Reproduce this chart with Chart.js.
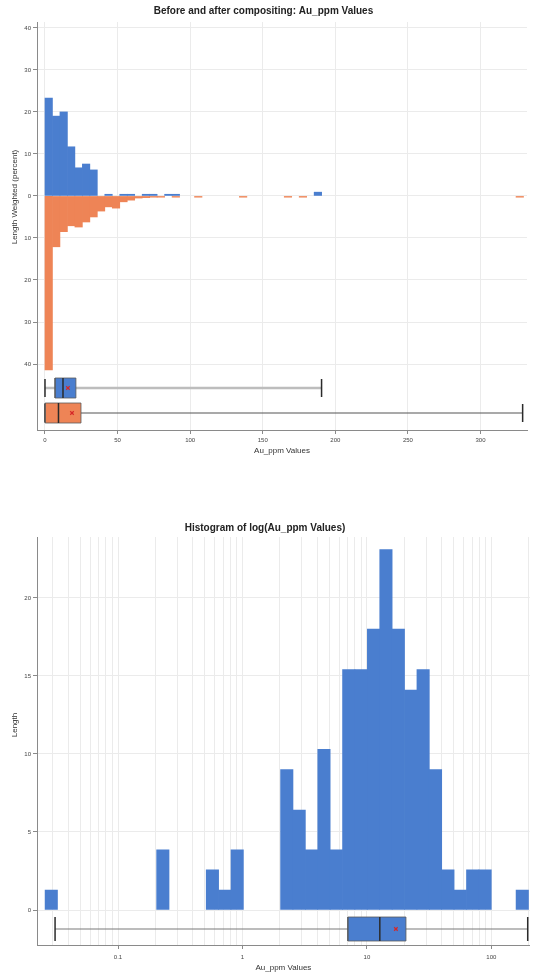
<!DOCTYPE html>
<html>
<head>
<meta charset="utf-8">
<title>Au_ppm compositing</title>
<script src="https://cdn.jsdelivr.net/npm/chart.js@4.4.0/dist/chart.umd.min.js"></script>
<style>
  html, body { margin: 0; padding: 0; background: #fff; }
  canvas { position: absolute; left: 0; }
  #compChart { top: 0; }
  #logChart { top: 470px; }
</style>
</head>
<body>
<canvas id="compChart" width="535" height="466"></canvas>
<canvas id="logChart" width="535" height="509"></canvas>
<script>
// Top panel: length weighted percent per bin, bins of 5.15 ppm starting at 0
const binWidth = 5.15
const compositePct = [23.3, 19.0, 20.0, 11.7, 6.7, 7.6, 6.2, 0, 0.4, 0,
  0.4, 0.4, 0, 0.4, 0.4, 0, 0.4, 0.4, 0, 0,
  0, 0, 0, 0, 0, 0, 0, 0, 0, 0,
  0, 0, 0, 0, 0, 0, 0.9]
const samplePct = [41.4, 12.1, 8.5, 7.1, 7.4, 6.2, 5.0, 3.6, 2.6, 2.9,
  1.4, 1.0, 0.5, 0.4, 0.3, 0.3, 0, 0.3, 0, 0,
  0.3, 0, 0, 0, 0, 0, 0.3, 0, 0, 0,
  0, 0, 0.3, 0, 0.3, 0, 0, 0, 0, 0,
  0, 0, 0, 0, 0, 0, 0, 0, 0, 0,
  0, 0, 0, 0, 0, 0, 0, 0, 0, 0,
  0, 0, 0, 0.3]
// box plots: min, q1, median, mean, q3, max (ppm)
const compositeBox = [0, 6.9, 12.4, 15.8, 21.3, 190.5]
const sampleBox = [0, 0.1, 9.3, 18.6, 24.8, 329]

// Bottom panel: histogram of log10(Au_ppm), composites
const logBinStart = -1.586
const logBinWidth = 0.0996
const logLength = [1.28, 0, 0, 0, 0, 0, 0, 0, 0, 3.85,
  0, 0, 0, 2.57, 1.28, 3.85, 0, 0, 0, 9.0,
  6.4, 3.85, 10.3, 3.85, 15.4, 15.4, 18.0, 23.1, 18.0, 14.1,
  15.4, 9.0, 2.57, 1.28, 2.57, 2.57, 0, 0, 1.28]
const logBox = [0.0312, 7.03, 12.7, 17.1, 20.6, 196]
const logTickLabels = ['0.1', '1', '10', '100']

;(() => {
  'use strict'

  Chart.defaults.font.family = "'Liberation Sans', Arial, sans-serif"
  Chart.defaults.color = '#444'

  const BLUE = '#4a7ecf'
  const ORANGE = '#ee8456'
  const AXIS = '#8a8a8a'
  const GRID = '#ebebeb'

  // empty bins are left out (null) so they draw nothing
  const barSet = (values, width, start, color, sign, xAxisID) => ({
    type: 'bar',
    xAxisID,
    yAxisID: 'y',
    data: values.map((v, i) => ({ x: start + (i + 0.5) * width, y: v ? sign * v : null })),
    backgroundColor: color,
    borderWidth: 0,
    grouped: false,
    barPercentage: 1,
    categoryPercentage: 1
  })

  // horizontal box plot built from line datasets on the box axis
  function boxplot (stats, row, half, capHalf, fillColor, whisker, whiskerWidth, tx) {
    const [lo, q1, med, mean, q3, hi] = tx ? stats.map(tx) : stats
    const seg = (pts, color, width) => ({
      type: 'line', yAxisID: 'yb', data: pts, borderColor: color,
      borderWidth: width, pointRadius: 0, fill: false
    })
    return [
      {
        type: 'line', yAxisID: 'yb', data: [{ x: mean, y: row }], showLine: false,
        pointStyle: 'crossRot', pointRadius: 2.5, pointBorderColor: '#d62728', pointBorderWidth: 1.2
      },
      seg([{ x: med, y: row - half }, { x: med, y: row + half }], '#2b2b2b', 1.5),
      {
        type: 'line', yAxisID: 'yb',
        data: [{ x: q1, y: row - half }, { x: q1, y: row + half }, { x: q3, y: row + half },
          { x: q3, y: row - half }, { x: q1, y: row - half }],
        borderColor: '#5a5a5a', borderWidth: 0.8, backgroundColor: fillColor,
        fill: 'shape', pointRadius: 0
      },
      seg([{ x: lo, y: row - capHalf }, { x: lo, y: row + capHalf }], '#2b2b2b', 1.5),
      seg([{ x: hi, y: row - capHalf }, { x: hi, y: row + capHalf }], '#2b2b2b', 1.5),
      seg([{ x: lo, y: row }, { x: hi, y: row }], whisker, whiskerWidth)
    ]
  }

  const titleFont = { size: 10, weight: 'bold' }
  const tickFont = { size: 6 }
  const labelFont = { size: 8 }

  // Before / after compositing
  new Chart(document.getElementById('compChart'), {
    type: 'bar',
    data: {
      datasets: [
        ...boxplot(compositeBox, 1, 0.4, 0.36, BLUE, '#bdbdbd', 2.5),
        ...boxplot(sampleBox, 2, 0.4, 0.36, ORANGE, '#555555', 1.2),
        barSet(compositePct, binWidth, 0, BLUE, 1, 'xb'),
        barSet(samplePct, binWidth, 0, ORANGE, -1, 'xb')
      ]
    },
    options: {
      responsive: false,
      animation: false,
      layout: { padding: { left: 0, right: 8, top: 0, bottom: 0 } },
      plugins: {
        legend: { display: false },
        tooltip: { enabled: false },
        title: {
          display: true,
          text: 'Before and after compositing: Au_ppm Values',
          color: '#222',
          font: titleFont,
          padding: { top: 5, bottom: 5 }
        }
      },
      scales: {
        x: {
          type: 'linear',
          min: -5.5,
          max: 332,
          offset: false,
          grid: { offset: false, color: GRID, tickColor: AXIS, tickLength: 4 },
          border: { color: AXIS },
          ticks: { stepSize: 50, includeBounds: false, font: tickFont, padding: 3, maxRotation: 0 },
          title: { display: true, text: 'Au_ppm Values', color: '#333', font: labelFont, padding: { top: 0, bottom: 10 } },
          afterFit: (s) => { s.height = 36 }
        },
        xb: {
          type: 'linear',
          axis: 'x',
          display: false,
          min: -5.5,
          max: 332,
          offset: false,
          ticks: { stepSize: 100 }
        },
        yb: {
          type: 'linear',
          axis: 'y',
          position: 'left',
          stack: 'left',
          stackWeight: 58,
          min: 0.36,
          max: 2.68,
          reverse: true,
          grid: { display: false },
          border: { color: AXIS },
          ticks: { display: false },
          afterFit: (s) => { s.width = 37 }
        },
        y: {
          type: 'linear',
          axis: 'y',
          position: 'left',
          stack: 'left',
          stackWeight: 350,
          min: -41.9,
          max: 41.4,
          grid: { color: GRID, tickColor: AXIS, tickLength: 4 },
          border: { color: AXIS },
          ticks: { stepSize: 10, includeBounds: false, font: tickFont, padding: 2, callback: (v) => Math.abs(v) },
          title: { display: true, text: 'Length Weighted (percent)', color: '#333', font: labelFont, padding: { top: 10, bottom: 0 } },
          afterFit: (s) => { s.width = 37 }
        }
      }
    }
  })

  // Histogram of log values
  new Chart(document.getElementById('logChart'), {
    type: 'bar',
    data: {
      datasets: [
        ...boxplot(logBox, 1, 0.75, 0.75, BLUE, '#7a7a7a', 1.2, Math.log10),
        barSet(logLength, logBinWidth, logBinStart, BLUE, 1, 'xb')
      ]
    },
    options: {
      responsive: false,
      animation: false,
      layout: { padding: { left: 0, right: 5, top: 0, bottom: 0 } },
      plugins: {
        legend: { display: false },
        tooltip: { enabled: false },
        title: {
          display: true,
          text: 'Histogram of log(Au_ppm Values)',
          color: '#222',
          font: titleFont,
          padding: { top: 52, bottom: 3 }
        }
      },
      scales: {
        x: {
          type: 'linear',
          min: -1.651,
          max: 2.309,
          offset: false,
          afterBuildTicks: (s) => {
            const ticks = []
            for (let e = -2; e <= 2; e++) {
              for (let k = 1; k <= 9; k++) {
                const v = e + Math.log10(k)
                if (v >= s.min && v <= s.max) ticks.push({ value: v })
              }
            }
            s.ticks = ticks
          },
          grid: {
            offset: false,
            color: GRID,
            tickLength: 4,
            tickColor: (ctx) => {
              const v = ctx.tick ? ctx.tick.value : 0.5
              return Math.abs(v - Math.round(v)) < 1e-6 ? AXIS : 'rgba(0,0,0,0)'
            }
          },
          border: { color: AXIS },
          ticks: {
            autoSkip: false,
            maxRotation: 0,
            font: tickFont,
            padding: 5,
            callback: (v) => {
              const r = Math.round(v)
              return Math.abs(v - r) < 1e-6 ? (logTickLabels[r + 1] || '') : ''
            }
          },
          title: { display: true, text: 'Au_ppm Values', color: '#333', font: labelFont, padding: { top: 0, bottom: 6 } },
          afterFit: (s) => { s.height = 34 }
        },
        xb: {
          type: 'linear',
          axis: 'x',
          display: false,
          min: -1.651,
          max: 2.309,
          offset: false,
          ticks: { stepSize: 1 }
        },
        yb: {
          type: 'linear',
          axis: 'y',
          position: 'left',
          stack: 'left',
          stackWeight: 32,
          min: 0,
          max: 2,
          reverse: true,
          grid: { display: false },
          border: { color: AXIS },
          ticks: { display: false },
          afterFit: (s) => { s.width = 37 }
        },
        y: {
          type: 'linear',
          axis: 'y',
          position: 'left',
          stack: 'left',
          stackWeight: 376,
          min: -0.19,
          max: 23.9,
          grid: { color: GRID, tickColor: AXIS, tickLength: 4 },
          border: { color: AXIS },
          ticks: { stepSize: 5, includeBounds: false, font: tickFont, padding: 2 },
          title: { display: true, text: 'Length', color: '#333', font: labelFont, padding: { top: 10, bottom: 0 } },
          afterFit: (s) => { s.width = 37 }
        }
      }
    }
  })
})()
</script>
</body>
</html>
